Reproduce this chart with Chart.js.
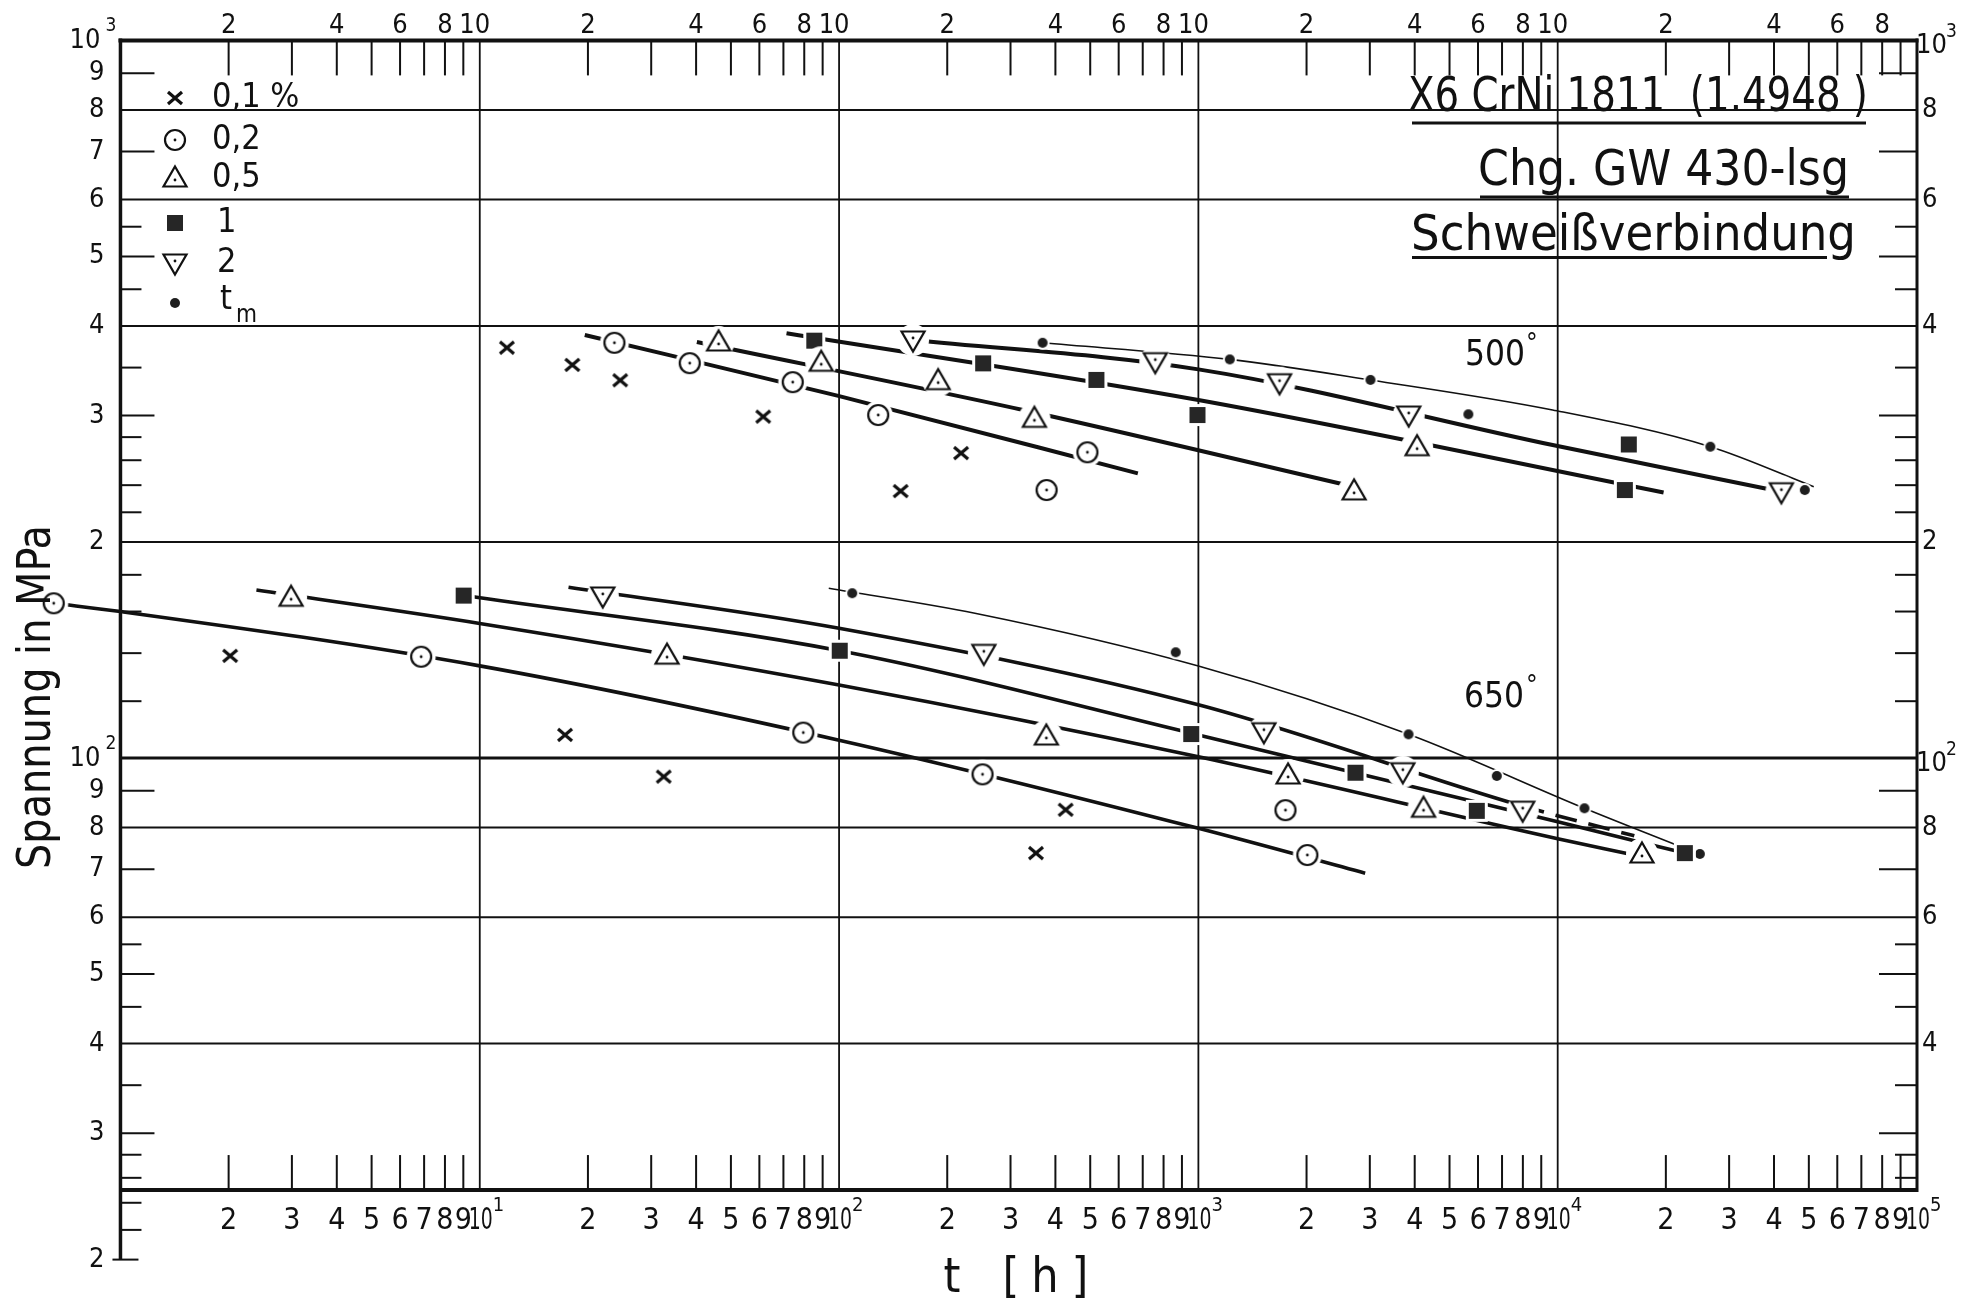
<!DOCTYPE html>
<html>
<head>
<meta charset="utf-8">
<title>X6 CrNi 1811 – Zeitdehngrenzen</title>
<script src="https://cdn.jsdelivr.net/npm/chart.js@4.4.1/dist/chart.umd.min.js"></script>
<style>
  html, body { margin: 0; padding: 0; background: #fff; }
  canvas { display: block; }
</style>
</head>
<body>
<canvas id="kriech" width="1981" height="1303"></canvas>
<script>
// Messpunkte 500 °C: Zeit t in h, Spannung in MPa
const t500_01 = [11.9, 18.1, 24.6, 61.5, 218.6, 148.4];
const s500_01 = [373, 353, 336, 299, 266, 235.5];
const t500_02 = [23.7, 38.4, 74.3, 128.5, 491, 378];
const s500_02 = [379, 355, 334, 300.6, 266.7, 236.3];
const t500_05 = [46.2, 89.2, 188.7, 349.7, 4062, 2712];
const s500_05 = [380, 356, 335.6, 297.4, 271.5, 235.6];
const t500_1 = [85.3, 251.8, 520.3, 994, 15770, 15380];
const s500_1 = [381.6, 354.8, 336.4, 300.6, 273.5, 236.3];
const t500_2 = [160.6, 758.6, 1682, 3850, 41940];
const s500_2 = [382.4, 356.7, 333.4, 300.6, 235];
const t500_m = [368.5, 1223, 3012, 5641, 26600, 48710];
const s500_m = [379, 359.3, 336.4, 301.3, 271.5, 236.3];

// Messpunkte 650 °C
const t650_01 = [2.02, 17.27, 32.5, 427.2, 353.2];
const s650_01 = [138.8, 107.7, 94.2, 84.7, 73.7];
const t650_02 = [0.652, 6.87, 79.5, 250.8, 1747, 2010];
const s650_02 = [164.3, 138.4, 108.5, 94.9, 84.6, 73.25];
const t650_05 = [2.985, 33.2, 377.5, 1777, 4232, 17160];
const s650_05 = [167.5, 139.1, 107.3, 94.7, 85.1, 73.5];
const t650_1 = [9.02, 100.4, 955, 2736, 5953, 22590];
const s650_1 = [168.4, 141.1, 108, 95.4, 84.4, 73.7];
const t650_2 = [22.0, 252.9, 1522, 3707, 7991];
const s650_2 = [168.2, 139.9, 108.8, 95.7, 84.6];
const t650_m = [108.8, 864.8, 3844, 6767, 11870, 24870];
const s650_m = [169.7, 140.4, 107.9, 94.4, 85.1, 73.5];

// Ausgleichslinien (Stützpunkte)
const lt500_02 = [19.6, 99.5, 678.5];
const ls500_02 = [388.6, 319.6, 249.3];
const lt500_05 = [40.2, 325, 2585];
const ls500_05 = [380, 305.5, 240.1];
const lt500_1 = [71.4, 1000, 19710];
const ls500_1 = [390.7, 315.4, 234.4];
const lt500_2 = [160.6, 1000, 9680, 41940];
const ls500_2 = [382.4, 348, 273, 235];
const lt500_m = [368.5, 1223, 3012, 9680, 26600, 51600];
const ls500_m = [379, 359.3, 336.4, 305.5, 271.5, 238.8];

const lt650_02 = [0.652, 1, 10, 100, 1000, 2912];
const ls650_02 = [164.3, 160, 134.4, 105.9, 79.8, 69.1];
const lt650_05 = [2.39, 10, 100, 1000, 10000, 15830];
const ls650_05 = [171.4, 154, 126.4, 100.4, 77.2, 73.5];
const lt650_1 = [9.02, 100.4, 1000, 10000, 22590];
const ls650_1 = [168.4, 141.1, 107.7, 81.5, 73.7];
const lt650_2 = [17.66, 100, 1000, 7991, 16340];
const ls650_2 = [173, 151.6, 118.6, 85.7, 77.9];
const lt650_m = [93.6, 238.8, 1000, 3844, 11870, 22020];
const ls650_m = [172.4, 159.1, 134.3, 107.9, 85.1, 75.2];

// Achsteilung
const gridStress = [40, 60, 80, 100, 200, 400, 600, 800];
const gridHours = [10, 100, 1000, 10000];
const tickLong = [30, 50, 70, 90, 300, 500, 700, 900];
const tickShort = [22, 24, 26, 28, 35, 45, 55, 120, 140, 160, 180, 220, 240, 260, 280, 350, 450, 550];
const leftLabels = [20, 30, 40, 50, 60, 70, 80, 90, 100, 200, 300, 400, 500, 600, 700, 800, 900, 1000];
const rightLabels = [40, 60, 80, 100, 200, 400, 600, 800, 1000];
const topDigits = [2, 4, 6, 8];
const bottomDigits = [2, 3, 4, 5, 6, 7, 8, 9];

const legendText = ['0,1 %', '0,2', '0,5', '1', '2'];

const ink = '#111';
const font = '"DejaVu Sans Condensed", "DejaVu Sans", sans-serif';

function dot(g, x, y) {
  g.fillStyle = ink;
  g.beginPath(); g.arc(x, y, 1.4, 0, 2 * Math.PI); g.fill();
}

// Symbole als kleine Canvas-Bilder, mit weißem Rand damit die Linien unterbrochen werden
function markerCanvas(kind) {
  const c = document.createElement('canvas');
  c.width = 36; c.height = 36;
  const g = c.getContext('2d');
  g.translate(18, 18);
  g.strokeStyle = ink; g.fillStyle = '#fff'; g.lineWidth = 2.2;
  if (kind === 'x') {
    g.lineWidth = 3.2;
    g.beginPath();
    g.moveTo(-7, -6); g.lineTo(7, 6);
    g.moveTo(7, -6); g.lineTo(-7, 6);
    g.stroke();
  } else if (kind === 'o') {
    g.beginPath(); g.arc(0, 0, 14.5, 0, 2 * Math.PI); g.fill();
    g.beginPath(); g.arc(0, 0, 10, 0, 2 * Math.PI); g.stroke();
    dot(g, 0, 0);
  } else if (kind === 'tri' || kind === 'triDown') {
    const k = kind === 'tri' ? 1 : -1;
    g.beginPath(); g.arc(0, 0, 16, 0, 2 * Math.PI); g.fill();
    g.beginPath();
    g.moveTo(0, -11.5 * k); g.lineTo(11.5, 8.5 * k); g.lineTo(-11.5, 8.5 * k);
    g.closePath(); g.stroke();
    dot(g, 0, 2 * k);
  } else if (kind === 'sq') {
    g.fillRect(-11, -11, 22, 22);
    g.fillStyle = '#262626'; g.fillRect(-8, -8, 16, 16);
  } else if (kind === 'dot') {
    g.beginPath(); g.arc(0, 0, 7, 0, 2 * Math.PI); g.fill();
    g.fillStyle = '#1e1e1e';
    g.beginPath(); g.arc(0, 0, 5, 0, 2 * Math.PI); g.fill();
  }
  return c;
}

const sym = {
  x: markerCanvas('x'), o: markerCanvas('o'), tri: markerCanvas('tri'),
  sq: markerCanvas('sq'), triDown: markerCanvas('triDown'), dot: markerCanvas('dot')
};
const legendSyms = [sym.x, sym.o, sym.tri, sym.sq, sym.triDown, sym.dot];

function pts(ts, ss) {
  return ts.map((t, i) => ({ x: t, y: ss[i] }));
}

function marks(ts, ss, style) {
  return {
    type: 'scatter', data: pts(ts, ss), pointStyle: style,
    pointRadius: 9, pointHoverRadius: 9, showLine: false, order: 0, clip: false
  };
}

function fitLine(ts, ss, width, extra) {
  return Object.assign({
    type: 'line', data: pts(ts, ss), borderColor: ink, borderWidth: width,
    pointRadius: 0, pointHoverRadius: 0, cubicInterpolationMode: 'monotone',
    fill: false, order: 1, clip: false
  }, extra || {});
}

function decade(v) {
  const e = Math.round(Math.log10(v) * 1e6) / 1e6;
  if (Number.isInteger(e)) return ['10', String(e)];
  return [String(Math.round(v / Math.pow(10, Math.floor(e)))), null];
}

function line(ctx, ax, ay, bx, by, w) {
  ctx.lineWidth = w;
  ctx.beginPath(); ctx.moveTo(ax, ay); ctx.lineTo(bx, by); ctx.stroke();
}

// Text auf feste Breite gestaucht/gestreckt
function fitText(ctx, txt, x, base, width) {
  const w = ctx.measureText(txt).width;
  ctx.save();
  ctx.translate(x, base);
  ctx.scale(width / w, 1);
  ctx.textAlign = 'left';
  ctx.fillText(txt, 0, 0);
  ctx.restore();
}

const frame = {
  id: 'frame',
  beforeDraw(chart) {
    const ctx = chart.ctx;
    ctx.save();
    ctx.fillStyle = '#fff';
    ctx.fillRect(0, 0, chart.width, chart.height);
    ctx.restore();
  },
  beforeDatasetsDraw(chart) {
    const ctx = chart.ctx, xs = chart.scales.x, ys = chart.scales.y;
    const X = v => xs.getPixelForValue(v), Y = v => ys.getPixelForValue(v);
    const x0 = X(1), x1 = X(1e5), yTop = Y(1000), yAxis = Y(25), yEnd = Y(20);
    ctx.save();
    ctx.strokeStyle = ink; ctx.fillStyle = ink; ctx.lineCap = 'butt';

    gridStress.forEach(s => line(ctx, x0, Y(s), x1, Y(s), s === 100 ? 3 : 2));
    gridHours.forEach(t => line(ctx, X(t), yTop, X(t), yAxis, 1.8));

    // Zeitteilung oben (hängend) und unten (stehend)
    for (let d = 0; d < 5; d++) {
      for (let m = 2; m < 10; m++) {
        const px = X(m * Math.pow(10, d));
        line(ctx, px, yTop, px, yTop + 35, 2);
        line(ctx, px, yAxis, px, yAxis - 35, 2);
      }
    }

    // Spannungsteilung links und rechts
    tickLong.forEach(s => {
      line(ctx, x0, Y(s), x0 + 34, Y(s), 2);
      if (s > 25) line(ctx, x1 - 38, Y(s), x1, Y(s), 2);
    });
    tickShort.forEach(s => {
      line(ctx, x0, Y(s), x0 + 21, Y(s), 2);
      if (s > 25) line(ctx, x1 - 22, Y(s), x1, Y(s), 2);
    });
    line(ctx, x0 - 8, yEnd, x0 + 18, yEnd, 2);

    // Rahmen
    line(ctx, x0 - 2, yTop, x1 + 1.5, yTop, 4);
    line(ctx, x0, yTop - 2, x0, yEnd, 3.5);
    line(ctx, x1, yTop - 2, x1, yAxis + 2, 3);
    line(ctx, x0, yAxis, x1, yAxis, 4);

    // Beschriftung Spannung
    ctx.textBaseline = 'middle';
    leftLabels.forEach(v => {
      const [txt, sup] = decade(v);
      const py = Y(v);
      ctx.font = '27px ' + font;
      ctx.textAlign = 'right';
      if (sup) {
        ctx.fillText(txt, x0 - 20, py + 1);
        ctx.font = '19px ' + font; ctx.textAlign = 'left';
        ctx.fillText(sup, x0 - 15, py - 14);
      } else {
        ctx.fillText(txt, x0 - 16, py);
      }
    });
    rightLabels.forEach(v => {
      const [txt, sup] = decade(v);
      const py = Y(v);
      ctx.font = '27px ' + font;
      ctx.textAlign = 'left';
      if (sup) {
        ctx.fillText(txt, x1 - 1, py + 6);
        ctx.font = '19px ' + font;
        ctx.fillText(sup, x1 + 29, py - 8);
      } else {
        ctx.fillText(txt, x1 + 5, py);
      }
    });

    // Beschriftung Zeit oben
    ctx.font = '27px ' + font; ctx.textAlign = 'center';
    for (let d = 0; d < 5; d++) {
      topDigits.forEach(m => ctx.fillText(String(m), X(m * Math.pow(10, d)), yTop - 14));
      if (d < 4) ctx.fillText('10', X(Math.pow(10, d + 1)) - 5, yTop - 14);
    }

    // Beschriftung Zeit unten
    for (let d = 0; d < 5; d++) {
      ctx.font = '30px ' + font; ctx.textAlign = 'center';
      bottomDigits.forEach(m => ctx.fillText(String(m), X(m * Math.pow(10, d)), yAxis + 31));
      const px = X(Math.pow(10, d + 1));
      ctx.fillText('10', px + 1, yAxis + 31, 24);
      ctx.font = '20px ' + font; ctx.textAlign = 'left';
      ctx.fillText(String(d + 1), px + 13, yAxis + 16);
    }
    ctx.restore();
  },
  afterDatasetsDraw(chart) {
    const ctx = chart.ctx;
    ctx.save();
    ctx.fillStyle = ink; ctx.strokeStyle = ink;

    // Legende
    const ly = [98, 140, 178, 223, 263, 303];
    legendSyms.forEach((c, i) => ctx.drawImage(c, 175 - 18, ly[i] - 18));
    ctx.font = '34px ' + font; ctx.textBaseline = 'middle'; ctx.textAlign = 'left';
    legendText.forEach((txt, i) => ctx.fillText(txt, i < 3 ? 212 : 217, ly[i]));
    ctx.fillText('t', 220, ly[5] - 3);
    ctx.font = '24px ' + font;
    ctx.fillText('m', 236, ly[5] + 13);

    // Werkstoffangaben
    ctx.textBaseline = 'alphabetic';
    ctx.font = '48px ' + font;
    fitText(ctx, 'X6 CrNi 1811  (1.4948 )', 1408, 111, 460);
    ctx.font = '50px ' + font;
    fitText(ctx, 'Chg. GW 430-lsg', 1478, 185, 371);
    fitText(ctx, 'Schweißverbindung', 1411, 250, 445);
    line(ctx, 1412, 123, 1866, 123, 3);
    line(ctx, 1480, 197, 1849, 197, 3);
    line(ctx, 1412, 257.5, 1827, 257.5, 3);

    // Temperaturen
    ctx.font = '36px ' + font;
    fitText(ctx, '500', 1465, 365, 60);
    fitText(ctx, '650', 1464, 707, 60);
    ctx.font = '26px ' + font;
    ctx.fillText('°', 1526, 352);
    ctx.fillText('°', 1526, 694);

    // Achsentitel
    ctx.font = '46px ' + font;
    ctx.save();
    ctx.translate(50, 697);
    ctx.rotate(-Math.PI / 2);
    const w = ctx.measureText('Spannung in MPa').width;
    ctx.scale(344 / w, 1);
    ctx.textAlign = 'center';
    ctx.fillText('Spannung in MPa', 0, 0);
    ctx.restore();

    ctx.font = '48px ' + font; ctx.textAlign = 'center';
    ctx.fillText('t', 952, 1292);
    ctx.fillText('[', 1011, 1292);
    ctx.fillText('h', 1045, 1292);
    ctx.fillText(']', 1080, 1292);
    ctx.restore();
  }
};

new Chart(document.getElementById('kriech'), {
  type: 'scatter',
  data: {
    datasets: [
      fitLine(lt500_02, ls500_02, 4),
      fitLine(lt500_05, ls500_05, 4),
      fitLine(lt500_1, ls500_1, 4),
      fitLine(lt500_2, ls500_2, 4),
      fitLine(lt500_m, ls500_m, 1.6),
      fitLine(lt650_02, ls650_02, 3.6),
      fitLine(lt650_05, ls650_05, 3.6),
      fitLine(lt650_1, ls650_1, 3.6),
      fitLine(lt650_2, ls650_2, 3.6, {
        segment: { borderDash: c => c.p0DataIndex === 3 ? [22, 12] : undefined }
      }),
      fitLine(lt650_m, ls650_m, 1.6),
      marks(t500_01, s500_01, sym.x),
      marks(t500_02, s500_02, sym.o),
      marks(t500_05, s500_05, sym.tri),
      marks(t500_1, s500_1, sym.sq),
      marks(t500_2, s500_2, sym.triDown),
      marks(t500_m, s500_m, sym.dot),
      marks(t650_01, s650_01, sym.x),
      marks(t650_02, s650_02, sym.o),
      marks(t650_05, s650_05, sym.tri),
      marks(t650_1, s650_1, sym.sq),
      marks(t650_2, s650_2, sym.triDown),
      marks(t650_m, s650_m, sym.dot)
    ]
  },
  options: {
    responsive: false,
    devicePixelRatio: 1,
    animation: false,
    events: [],
    layout: { padding: { left: 12.3, right: 64, top: 40.4, bottom: 43.4 } },
    plugins: { legend: { display: false }, tooltip: { enabled: false } },
    scales: {
      x: { type: 'logarithmic', min: 0.5, max: 1e5, display: false },
      y: { type: 'logarithmic', min: 20, max: 1000, display: false }
    }
  },
  plugins: [frame]
});
</script>
</body>
</html>
